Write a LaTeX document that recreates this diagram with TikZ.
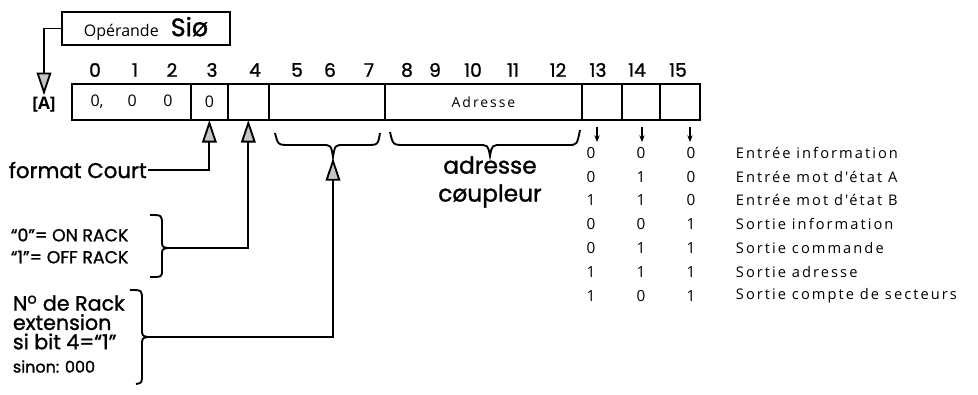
\documentclass[tikz,border=0pt]{standalone}
\usepackage{fontspec}
\setmainfont{Open Sans}
\newfontfamily\handfont[FakeBold=1.2]{Poppins}
\newfontfamily\tabfont[LetterSpace=14]{Open Sans}
\usetikzlibrary{arrows.meta, positioning}
\newcommand{\bitrow}[3]{\makebox[37.5pt]{#1}\makebox[37.5pt]{#2}\makebox[37.5pt]{#3}}

\begin{document}
\begin{tikzpicture}[x=0.0264cm, y=-0.0264cm, line width=1.4pt,
    cell/.style={draw, line width=1.5pt, minimum height=27pt, inner sep=0pt, outer sep=0pt, font=\fontsize{12}{13}\selectfont},
    bitnum/.style={font=\handfont\fontsize{14}{15}\selectfont},
    hand/.style={anchor=west, font=\handfont\fontsize{16}{19}\selectfont, align=left, inner sep=0pt},
    row/.style={font=\tabfont\fontsize{11.5}{13}\selectfont},
    lbl/.style={anchor=west, font=\tabfont\fontsize{11}{13}\selectfont, inner sep=0pt},
    up/.style={-{Triangle[length=17pt, width=11pt, fill=gray!45]}},
    tick/.style={-{Stealth[length=5pt, width=4pt]}, line width=0.9pt}]
      \useasboundingbox (0,0) rectangle (978,395);
      % operand box
      \node[draw, line width=1.5pt, minimum width=126pt, minimum height=24.75pt, font=\fontsize{12}{14}\selectfont] (op) at (146,28.5) {Opérande \hspace{6pt}{\handfont\fontsize{19}{20}\selectfont Siø}};
      \node[font=\fontsize{13}{15}\selectfont\bfseries, inner sep=1pt] (A) at (44,105) {[A]};
      \draw[up] (op.west) -| (A.north);
      % register
      \node[cell, minimum width=89.25pt] (c0) at (131.5,102) {0,\hspace{18pt}0\hspace{20pt}0};
      \node[cell, minimum width=27.75pt, right=0pt of c0] (c3) {0};
      \node[cell, minimum width=30.75pt, right=0pt of c3] (c4) {};
      \node[cell, minimum width=87pt, right=0pt of c4] (c5) {};
      \node[cell, minimum width=148.5pt, right=0pt of c5, font=\tabfont\fontsize{10.5}{12}\selectfont] (c8) {Adresse};
      \node[cell, minimum width=30pt, right=0pt of c8] (c13) {};
      \node[cell, minimum width=28.5pt, right=0pt of c13] (c14) {};
      \node[cell, minimum width=30pt, right=0pt of c14] (c15) {};
      % bit numbers
      \node[bitnum] (n0) at (95,70) {0};
      \node[bitnum] (n1) at (135,70) {1};
      \node[bitnum] (n2) at (172,70) {2};
      \node[bitnum] (n3) at (212,70) {3};
      \node[bitnum] (n4) at (255,70) {4};
      \node[bitnum] (n5) at (297,70) {5};
      \node[bitnum] (n6) at (330,70) {6};
      \node[bitnum] (n7) at (369,70) {7};
      \node[bitnum] (n8) at (407,70) {8};
      \node[bitnum] (n9) at (435,70) {9};
      \node[bitnum] (n10) at (473,70) {10};
      \node[bitnum] (n11) at (513,70) {11};
      \node[bitnum] (n12) at (558,70) {12};
      \node[bitnum] (n13) at (598,70) {13};
      \node[bitnum] (n14) at (637,70) {14};
      \node[bitnum] (n15) at (678,70) {15};
      % braces under the register
      \draw (275,133) .. controls (278,145) .. (290,145) -- (322,145) .. controls (331,145) .. (333,157) .. controls (335,145) .. (344,145) -- (366,145) .. controls (378,145) .. (380,133);
      \draw (390,132) .. controls (393,145) .. (405,145) -- (478,145) .. controls (488,145) .. (490,156) .. controls (492,145) .. (502,145) -- (568,145) .. controls (577,145) .. (580,130);
      \coordinate (b57) at (333,158);
      \node[hand, anchor=center, font=\handfont\fontsize{17.5}{21}\selectfont, align=center] (coup) at (490,182) {adresse\\cøupleur};
      % left notes
      \node[hand] (fc) at (8,170) {format Court};
      \draw[up] (fc.east) -| (c3.south);
      \node[hand, font=\handfont\fontsize{13}{16.5}\selectfont] (rack) at (10,246) {“0”= ON RACK\\“1”= OFF RACK};
      \draw (150,215) .. controls (162,215) .. (162,225) -- (162,240) .. controls (162,247) .. (168,248) .. controls (162,249) .. (162,256) -- (162,270) .. controls (162,277) .. (150,277);
      \coordinate (rk) at (168,248);
      \draw[up] (rk) -| (c4.south);
      \node[hand, font=\handfont\fontsize{15.5}{14.5}\selectfont] (ext) at (12,334) {N\textsuperscript{o} de Rack\\extension\\si bit 4=“1”\\[3pt]{\fontsize{12}{12}\selectfont sinon: 000}};
      \draw (130,290) .. controls (142,290) .. (142,300) -- (142,328) .. controls (142,336) .. (148,337) .. controls (142,338) .. (142,346) -- (142,374) .. controls (142,383) .. (136,384);
      \coordinate (ex) at (148,337);
      \draw[up] (ex) -| (b57);
      % decoding table
      \coordinate (a13) at (597,127);
      \coordinate (t13) at (597,142);
      \coordinate (a14) at (642,127);
      \coordinate (t14) at (642,142);
      \coordinate (a15) at (690,127);
      \coordinate (t15) at (690,142);
      \draw[tick] (a13) -- (t13);
      \draw[tick] (a14) -- (t14);
      \draw[tick] (a15) -- (t15);
      \node[row] (r1) at (641,153) {\bitrow{0}{0}{0}};
      \node[row] (r2) at (641,177) {\bitrow{0}{1}{0}};
      \node[row] (r3) at (641,200) {\bitrow{1}{1}{0}};
      \node[row] (r4) at (641,224) {\bitrow{0}{0}{1}};
      \node[row] (r5) at (641,248) {\bitrow{0}{1}{1}};
      \node[row] (r6) at (641,272) {\bitrow{1}{1}{1}};
      \node[row] (r7) at (641,296) {\bitrow{1}{0}{1}};
      \node[lbl] (l1) at (735,153) {Entrée information};
      \node[lbl] (l2) at (735,177) {Entrée mot d'état A};
      \node[lbl] (l3) at (735,200) {Entrée mot d'état B};
      \node[lbl] (l4) at (735,224) {Sortie information};
      \node[lbl] (l5) at (735,248) {Sortie commande};
      \node[lbl] (l6) at (735,272) {Sortie adresse};
      \node[lbl] (l7) at (735,296) {Sortie compte de secteurs};
    \end{tikzpicture}
\end{document}
